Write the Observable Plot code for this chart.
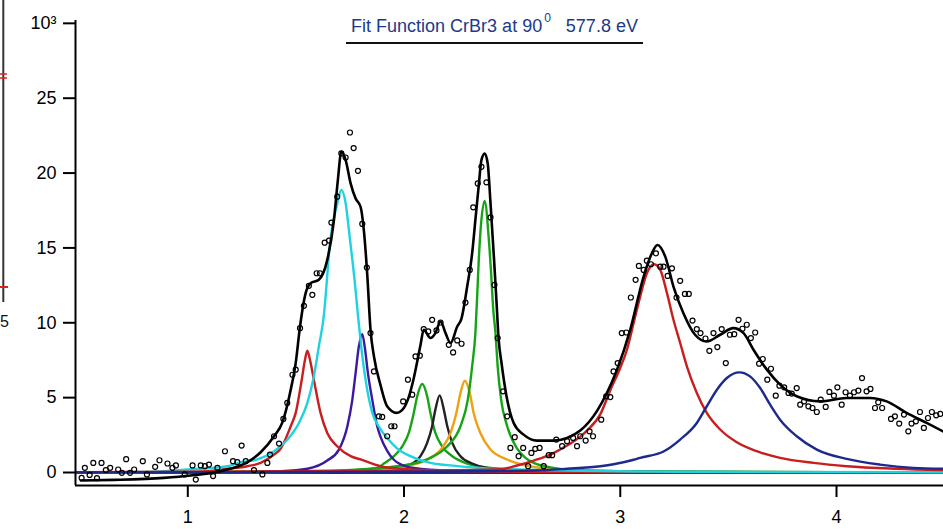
<!DOCTYPE html>
<html>
<head>
<meta charset="utf-8">
<script src="https://cdn.jsdelivr.net/npm/d3@7"></script>
<script src="https://cdn.jsdelivr.net/npm/@observablehq/plot@0.6"></script>
<style>
  html, body { margin: 0; padding: 0; background: #fff; }
  #wrap { position: relative; width: 943px; height: 529px; overflow: hidden; font-family: "Liberation Sans", Arial, sans-serif; }
  #title { position: absolute; left: 346px; width: 297px; top: 11px; text-align: center; font-size: 18px; color: #1a3a8a; border-bottom: 2px solid #111; padding-bottom: 5px; white-space: nowrap; line-height: 21px; }
  #title sup { font-size: 12px; position: relative; top: -3px; margin-left: 2px; }
  #frag { position: absolute; left: 0; top: 0; }
</style>
</head>
<body>
<div id="wrap">
  <div id="chart"></div>
  <svg id="frag" width="20" height="340">
    <line x1="3.3" y1="0" x2="3.3" y2="302" stroke="#333" stroke-width="2"/>
    <line x1="0" y1="74" x2="7" y2="74" stroke="#e02020" stroke-width="1.5"/>
    <line x1="0" y1="78" x2="7" y2="78" stroke="#e02020" stroke-width="1.5"/>
    <line x1="0" y1="287" x2="8" y2="287" stroke="#e02020" stroke-width="2"/>
    <text x="0" y="327" font-size="16" font-family="Liberation Sans, Arial, sans-serif" fill="#111">5</text>
  </svg>
  <div id="title">Fit Function CrBr3 at 90<sup>0</sup>&nbsp;&nbsp;&nbsp;577.8 eV</div>
</div>
<script>
// Axes
const xDomain = [0.4807, 4.4948];
const yDomain = [-0.868, 30.19];
const xTicks = [1, 2, 3, 4];
const yTicks = [0, 5, 10, 15, 20, 25, 30];
const yTickLabels = ["0", "5", "10", "15", "20", "25", "10³"];

// Measured data (open circles)
const measuredX = [0.509,0.524,0.546,0.563,0.580,0.601,0.621,0.641,0.678,0.695,0.715,0.733,0.752,0.792,0.811,0.849,0.869,0.906,0.929,0.945,0.986,1.022,1.037,1.060,1.079,1.098,1.117,1.137,1.172,1.209,1.229,1.249,1.268,1.306,1.345,1.368,1.380,1.399,1.422,1.442,1.460,1.484,1.499,1.519,1.537,1.560,1.576,1.596,1.611,1.633,1.653,1.664,1.691,1.710,1.730,1.750,1.767,1.787,1.807,1.828,1.845,1.861,1.884,1.899,1.922,1.941,1.956,1.996,2.018,2.038,2.053,2.073,2.091,2.112,2.130,2.150,2.169,2.207,2.227,2.246,2.266,2.284,2.304,2.320,2.341,2.358,2.381,2.400,2.418,2.433,2.458,2.477,2.492,2.512,2.530,2.551,2.574,2.589,2.607,2.627,2.646,2.669,2.685,2.704,2.731,2.754,2.782,2.800,2.815,2.840,2.858,2.874,2.912,2.935,2.954,2.969,2.988,3.007,3.028,3.049,3.071,3.086,3.108,3.123,3.142,3.165,3.185,3.200,3.219,3.239,3.260,3.277,3.299,3.317,3.334,3.354,3.371,3.394,3.412,3.431,3.449,3.469,3.488,3.507,3.527,3.547,3.565,3.585,3.604,3.624,3.642,3.659,3.680,3.697,3.719,3.736,3.758,3.778,3.793,3.816,3.832,3.850,3.870,3.889,3.909,3.927,3.950,3.967,3.988,4.004,4.024,4.042,4.062,4.081,4.101,4.118,4.139,4.157,4.178,4.193,4.211,4.252,4.270,4.290,4.312,4.332,4.347,4.367,4.386,4.404,4.423,4.441,4.461,4.480];
const measuredY = [-0.36,0.31,-0.16,0.64,-0.38,0.64,0.16,0.31,0.20,-0.02,0.89,-0.02,0.20,0.76,-0.13,0.38,0.82,0.60,0.31,0.47,-0.13,0.47,-0.47,0.47,0.42,0.53,-0.24,0.31,1.42,0.76,0.69,1.80,0.76,0.16,-0.13,0.64,1.20,2.42,1.93,3.58,4.65,6.53,6.87,9.64,11.13,12.47,11.87,13.31,13.31,15.35,15.49,16.69,18.42,21.31,21.04,22.71,21.67,20.15,16.60,13.69,9.31,6.75,3.75,3.71,2.42,3.09,3.09,4.75,6.20,5.20,7.75,7.80,9.58,9.42,10.20,9.49,10.02,8.53,8.02,8.82,8.60,11.35,13.53,17.71,19.31,20.42,19.38,17.04,12.53,8.98,5.42,3.75,1.64,2.36,1.09,1.64,0.42,1.31,1.58,1.64,0.42,1.16,1.16,2.20,1.76,2.09,2.31,1.76,2.42,2.13,2.75,2.42,3.53,5.09,5.04,6.75,7.31,9.31,9.35,11.69,12.87,13.80,13.53,14.15,13.91,14.64,13.75,13.75,13.13,13.64,11.69,12.80,11.93,11.93,10.15,9.58,9.31,8.95,8.13,9.31,8.38,9.58,7.31,9.20,9.24,10.20,9.60,9.87,8.98,9.35,7.27,7.58,6.20,6.93,5.13,5.80,5.69,5.31,5.27,5.64,4.53,4.75,4.42,4.31,4.04,4.87,4.38,5.38,5.13,5.69,4.53,5.36,5.13,5.36,5.47,6.31,5.42,5.58,4.31,4.69,4.31,3.58,3.75,3.27,3.87,2.75,3.27,3.42,4.04,2.98,3.64,4.04,3.82,3.91];

// Total fit (black)
const fitTotal = [[0.506,-0.53],[0.658,-0.49],[0.889,-0.36],[1.014,-0.20],[1.152,0.09],[1.276,0.69],[1.337,1.35],[1.399,2.42],[1.437,3.33],[1.476,5.53],[1.499,7.31],[1.519,9.75],[1.545,11.98],[1.568,12.64],[1.606,12.87],[1.645,14.2],[1.676,16.87],[1.694,19.53],[1.710,21.42],[1.730,20.87],[1.753,19.31],[1.776,18.31],[1.799,17.75],[1.814,16.2],[1.830,13.2],[1.845,9.53],[1.861,7.75],[1.891,5.85],[1.922,4.42],[1.965,3.98],[1.999,4.31],[2.021,5.0],[2.045,6.3],[2.076,8.5],[2.091,9.53],[2.122,8.98],[2.145,9.31],[2.169,10.09],[2.192,9.31],[2.215,8.65],[2.246,9.75],[2.266,10.3],[2.292,12.42],[2.315,14.64],[2.330,16.87],[2.345,19.09],[2.358,20.87],[2.373,21.31],[2.387,20.64],[2.400,17.98],[2.416,14.3],[2.428,11.31],[2.437,9.0],[2.451,7.3],[2.474,5.1],[2.507,3.3],[2.553,2.53],[2.615,2.13],[2.692,2.13],[2.754,2.31],[2.815,2.8],[2.892,4.1],[2.938,5.31],[2.985,6.87],[3.046,9.53],[3.108,13.09],[3.146,14.64],[3.172,15.2],[3.208,14.42],[3.246,12.42],[3.292,10.64],[3.346,9.2],[3.400,8.75],[3.462,9.2],[3.523,9.64],[3.570,9.31],[3.616,8.2],[3.678,6.87],[3.739,5.87],[3.816,5.09],[3.924,4.75],[4.047,4.98],[4.155,4.98],[4.232,4.75],[4.324,3.98],[4.417,3.31],[4.492,2.75]];

// Fit components
const peakRed1 = [[0.483,0],[1.028,0.03],[1.183,0.25],[1.276,0.42],[1.337,0.64],[1.399,1.2],[1.430,1.6],[1.476,3.09],[1.499,3.98],[1.527,6.2],[1.542,7.53],[1.553,8.13],[1.565,7.53],[1.583,6.2],[1.614,3.98],[1.645,2.64],[1.691,1.75],[1.753,1.09],[1.799,0.87],[1.891,0.42],[1.984,0.25],[2.215,0.1],[2.677,0.03],[4.492,0]];
const peakCyan = [[0.483,0],[0.843,0.05],[1.0,0.2],[1.183,0.42],[1.245,0.69],[1.322,0.87],[1.399,1.42],[1.461,2.2],[1.514,3.31],[1.553,4.65],[1.583,6.42],[1.606,8.42],[1.630,10.6],[1.642,12.6],[1.653,14.64],[1.668,16.42],[1.688,17.75],[1.710,18.87],[1.730,17.98],[1.745,16.2],[1.761,14.2],[1.771,12.9],[1.787,10.5],[1.802,8.42],[1.822,6.2],[1.853,4.0],[1.891,2.9],[1.922,2.3],[1.969,1.6],[2.045,1.0],[2.122,0.64],[2.200,0.49],[2.353,0.31],[2.677,0.15],[3.370,0.05],[4.492,0.02]];
const peakPurple = [[0.483,0],[1.2,0.02],[1.430,0.09],[1.553,0.25],[1.645,0.8],[1.699,1.53],[1.738,3.09],[1.761,4.87],[1.776,6.64],[1.791,8.42],[1.807,9.24],[1.818,8.42],[1.833,6.64],[1.853,4.87],[1.876,3.09],[1.891,2.4],[1.922,1.45],[1.953,0.85],[1.984,0.55],[2.045,0.3],[2.215,0.12],[2.6,0.04],[4.492,0]];
const peakGreen1 = [[0.483,0],[1.5,0.04],[1.707,0.1],[1.876,0.31],[1.907,0.6],[1.953,1.09],[1.992,1.75],[2.022,2.64],[2.045,3.98],[2.061,5.09],[2.084,5.91],[2.107,5.09],[2.122,3.98],[2.145,2.64],[2.176,1.75],[2.223,1.09],[2.292,0.6],[2.400,0.31],[2.677,0.1],[3.2,0.04],[4.492,0.01]];
const peakDark = [[0.483,0],[1.6,0.03],[1.85,0.12],[1.969,0.31],[2.030,0.53],[2.076,1.09],[2.107,1.98],[2.130,3.09],[2.145,4.2],[2.165,5.15],[2.184,4.2],[2.200,3.09],[2.223,1.98],[2.261,1.09],[2.315,0.6],[2.384,0.31],[2.6,0.1],[3.2,0.03],[4.492,0]];
const peakOrange = [[0.483,0],[1.7,0.05],[1.9,0.15],[2.015,0.42],[2.107,0.87],[2.176,1.64],[2.215,2.64],[2.242,3.98],[2.261,5.31],[2.281,6.13],[2.304,5.31],[2.322,3.98],[2.353,2.64],[2.400,1.53],[2.477,0.87],[2.569,0.45],[2.723,0.2],[3.2,0.06],[4.492,0.01]];
const peakGreen2 = [[0.483,0],[1.6,0.1],[1.85,0.25],[1.969,0.42],[2.045,0.6],[2.122,0.98],[2.200,1.75],[2.261,3.09],[2.295,4.87],[2.315,7.09],[2.330,9.31],[2.339,12.0],[2.345,14.0],[2.353,16.0],[2.373,18.13],[2.392,15.6],[2.404,13.0],[2.412,11.0],[2.423,9.31],[2.433,7.09],[2.449,4.87],[2.477,3.09],[2.523,1.6],[2.560,1.0],[2.600,0.64],[2.692,0.31],[2.830,0.13],[3.3,0.05],[4.492,0.02]];
const peakRed2 = [[0.483,0.02],[1.0,0.06],[1.8,0.1],[2.2,0.15],[2.446,0.22],[2.523,0.47],[2.600,0.8],[2.677,1.2],[2.754,1.8],[2.815,2.4],[2.846,2.8],[2.908,3.9],[2.954,5.5],[3.0,7.0],[3.031,8.2],[3.062,10.0],[3.092,11.75],[3.123,13.31],[3.157,13.91],[3.185,13.53],[3.216,11.98],[3.246,10.2],[3.277,8.65],[3.308,7.09],[3.354,5.31],[3.400,3.98],[3.462,2.87],[3.539,2.02],[3.631,1.42],[3.739,0.98],[3.893,0.64],[4.047,0.42],[4.278,0.25],[4.492,0.16]];
const peakNavy = [[0.483,0],[1.5,0.03],[2.2,0.07],[2.600,0.13],[2.754,0.25],[2.908,0.42],[2.969,0.55],[3.062,0.85],[3.092,0.98],[3.200,1.4],[3.277,2.2],[3.354,3.31],[3.400,4.42],[3.447,5.53],[3.493,6.31],[3.551,6.69],[3.600,6.42],[3.647,5.64],[3.693,4.53],[3.739,3.53],[3.816,2.42],[3.909,1.53],[4.047,0.91],[4.201,0.53],[4.355,0.31],[4.492,0.25]];
const baseline = [[0.483,0],[4.492,0]];

const measured = measuredX.map((x, i) => ({x, y: measuredY[i]}));
const lineOpts = (stroke, w = 2.4) => ({x: d => d[0], y: d => d[1], stroke, strokeWidth: w, curve: "monotone-x"});

const chart = Plot.plot({
  width: 943,
  height: 529,
  marginLeft: 75,
  marginRight: 0,
  marginTop: 20,
  marginBottom: 44,
  style: {fontFamily: "Liberation Sans, Arial, sans-serif", fontSize: "17px", background: "transparent", color: "#000"},
  x: {domain: xDomain},
  y: {domain: yDomain},
  marks: [
    Plot.line(baseline, lineOpts("#1b2a8c", 3)),
    Plot.line(peakGreen1, lineOpts("#16a416")),
    Plot.line(peakDark, lineOpts("#222")),
    Plot.line(peakOrange, lineOpts("#f0a010")),
    Plot.line(peakGreen2, lineOpts("#16a416")),
    Plot.line(peakPurple, lineOpts("#3c1aa0")),
    Plot.line(peakRed1, lineOpts("#c81e1e")),
    Plot.line(peakCyan, lineOpts("#1fd2e0")),
    Plot.line(peakRed2, lineOpts("#c81e1e")),
    Plot.line(peakNavy, lineOpts("#1b2a8c")),
    Plot.line(fitTotal, lineOpts("#000", 2.6)),
    Plot.dot(measured, {x: "x", y: "y", r: 2.5, stroke: "#000", strokeWidth: 1.2, fill: "none"}),
    Plot.ruleX([xDomain[0]], {stroke: "#000", strokeWidth: 2}),
    Plot.ruleY([yDomain[0]], {stroke: "#000", strokeWidth: 2}),
    Plot.axisX(xTicks, {tickSize: 12, tickPadding: 13, strokeWidth: 2, fontSize: 18, label: null, tickFormat: d => String(d)}),
    Plot.axisY(yTicks, {tickSize: 12, tickPadding: 7, strokeWidth: 2, fontSize: 18, label: null, tickFormat: d => yTickLabels[yTicks.indexOf(d)]})
  ]
});
document.getElementById("chart").appendChild(chart);
</script>
</body>
</html>
